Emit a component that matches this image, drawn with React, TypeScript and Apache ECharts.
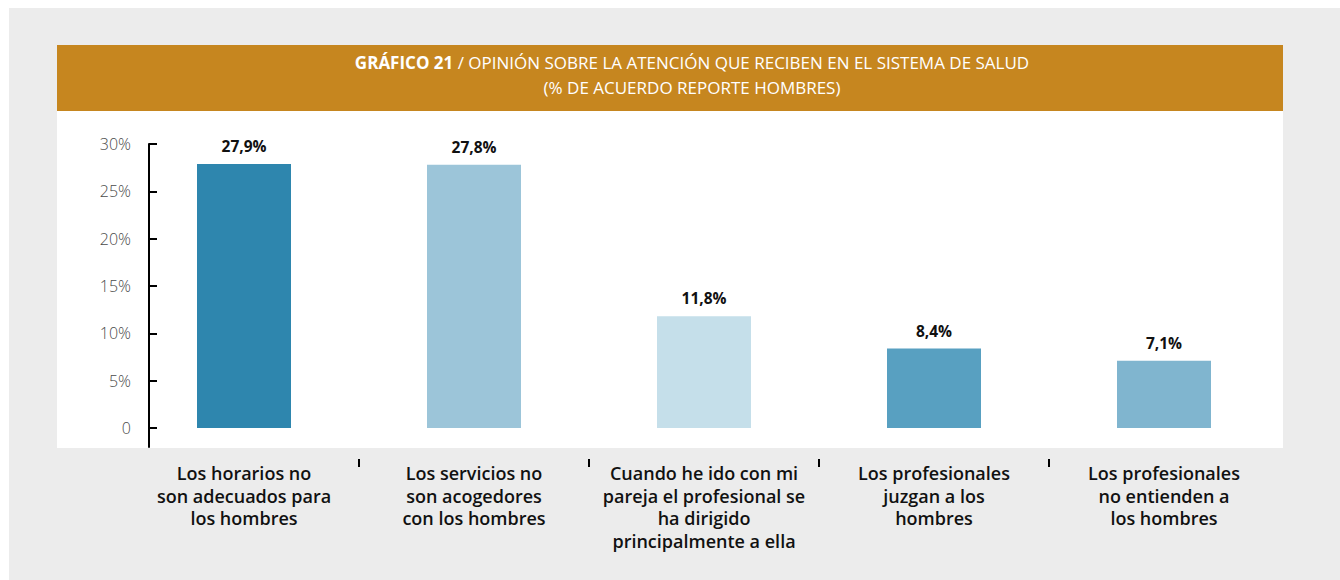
import React, { useEffect, useRef } from "react";
import * as echarts from "echarts";

const categories = [
  "Los horarios no\nson adecuados para\nlos hombres",
  "Los servicios no\nson acogedores\ncon los hombres",
  "Cuando he ido con mi\npareja el profesional se\nha dirigido\nprincipalmente a ella",
  "Los profesionales\njuzgan a los\nhombres",
  "Los profesionales\nno entienden a\nlos hombres",
];
const values = [27.9, 27.8, 11.8, 8.4, 7.1];
const barColors = ["#2e86ae", "#9cc5d9", "#c5dfea", "#58a0c1", "#80b5cf"];
const yTicks = [0, 5, 10, 15, 20, 25, 30];
const boundaryTicks = [1, 2, 3, 4];
const titleBold = "GRÁFICO 21";
const titleRest = " / OPINIÓN SOBRE LA ATENCIÓN QUE RECIBEN EN EL SISTEMA DE SALUD";
const titleLine2 = "(% DE ACUERDO REPORTE HOMBRES)";

export default function App() {
  const ref = useRef<HTMLDivElement>(null);
  useEffect(() => {
    if (!ref.current) return;
    const chart = echarts.init(ref.current, undefined, { renderer: "svg" });
    const font = "'Open Sans', sans-serif";
    chart.setOption({
      animation: false,
      backgroundColor: "#ffffff",
      graphic: [
        { type: "rect", z: -10, shape: { x: 9, y: 8, width: 1331, height: 572 }, style: { fill: "#ececec" } },
        { type: "rect", z: -10, shape: { x: 57, y: 45, width: 1226, height: 66 }, style: { fill: "#c6861f" } },
        { type: "rect", z: -10, shape: { x: 57, y: 111, width: 1226, height: 337 }, style: { fill: "#ffffff" } },
      ],
      title: {
        left: 687,
        textAlign: "center",
        top: 45,
        text: `{b|${titleBold}}{r|${titleRest}}\n{r|${titleLine2}}`,
        textStyle: {
          rich: {
            b: { fontFamily: font, fontSize: 17, fontWeight: 700, color: "#ffffff", lineHeight: 25 },
            r: { fontFamily: font, fontSize: 17, fontWeight: 400, color: "#ffffff", lineHeight: 25 },
          },
        },
      },
      grid: { left: 129, right: 61, top: 144, bottom: 133, containLabel: false },
      xAxis: [
        {
          type: "category",
          data: categories,
          axisLine: { show: false },
          axisTick: { show: false },
          axisLabel: {
            interval: 0,
            margin: 15,
            fontFamily: font,
            fontSize: 18,
            fontWeight: 600,
            lineHeight: 22.5,
            color: "#111111",
            align: "center",
          },
        },
        {
          type: "value",
          position: "bottom",
          min: 0,
          max: 5,
          offset: 12,
          axisLine: { show: false },
          axisLabel: { show: false },
          splitLine: { show: false },
          axisTick: { show: true, length: 8, customValues: boundaryTicks, lineStyle: { color: "#000", width: 2 } },
        },
      ],
      yAxis: {
        type: "value",
        min: -2,
        max: 30,
        offset: -20,
        splitLine: { show: false },
        axisLine: { show: true, lineStyle: { color: "#000", width: 2 } },
        axisTick: { show: true, inside: true, length: 8, customValues: yTicks, lineStyle: { color: "#000", width: 2 } },
        axisLabel: {
          customValues: yTicks,
          margin: 18,
          fontFamily: font,
          fontSize: 16,
          fontWeight: 300,
          color: "#4a4a4a",
          padding: [0, 0, 8, 0],
          formatter: (v: number) => (v === 0 ? "0" : `${v}%`),
        },
      },
      series: [
        {
          type: "bar",
          xAxisIndex: 0,
          barWidth: 94,
          data: values.map((v, i) => ({ value: v, itemStyle: { color: barColors[i] } })),
          label: {
            show: true,
            position: "top",
            distance: 10,
            fontFamily: font,
            fontSize: 15.5,
            fontWeight: 700,
            color: "#111111",
            formatter: (p: any) => `${p.value.toFixed(1).replace(".", ",")}%`,
          },
        },
      ],
    });
    return () => chart.dispose();
  }, []);
  return <div ref={ref} style={{ position: "absolute", left: 0, top: 0, width: 1340, height: 580 }} />;
}
